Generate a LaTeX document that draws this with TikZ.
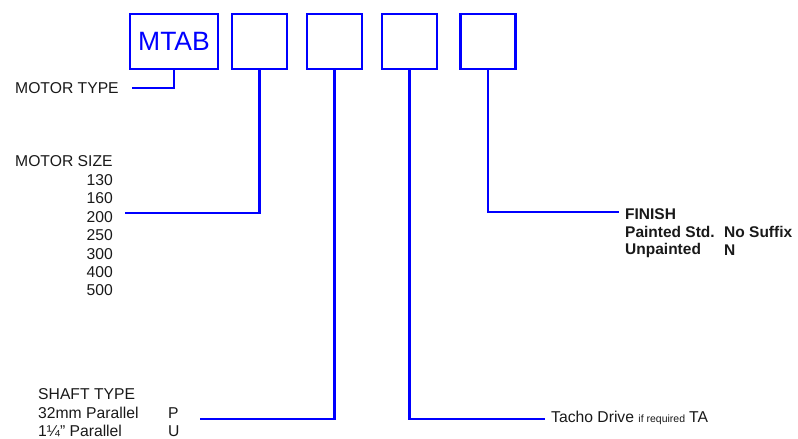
\documentclass[tikz,border=0pt]{standalone}
\usepackage{fontspec}
\setmainfont{Liberation Sans}
\definecolor{lineblue}{RGB}{0,0,255}
\definecolor{txt}{RGB}{25,25,25}
\begin{document}
\begin{tikzpicture}[x=1pt,y=-1pt,
  codebox/.style={draw=lineblue,line width=2.6pt,minimum width=55pt,minimum height=55pt,inner sep=0pt},
  lead/.style={draw=lineblue,line width=2.8pt},
  lbl/.style={inner sep=0pt,text=txt,font=\fontsize{15.7}{18}\selectfont},
  blbl/.style={inner sep=0pt,text=txt,font=\fontsize{15.5}{18}\selectfont\bfseries}]
\useasboundingbox (0,0) rectangle (798,439);
% code boxes
\node[codebox,minimum width=88pt,text=lineblue,font=\fontsize{26.5}{30}\selectfont] (b1) at (174,41.5) {MTAB};
\node[codebox] (b2) at (259.5,41.5) {};
\node[codebox] (b3) at (334.5,41.5) {};
\node[codebox] (b4) at (409.5,41.5) {};
\node[codebox] (b5) at (488,41.5) {};
% labels
\node[lbl,anchor=west] (mt) at (15,88) {MOTOR TYPE};
\node[lbl,anchor=west] (ms) at (15,161) {MOTOR SIZE};
\node[lbl,anchor=east] (s130) at (113,180) {130};
\node[lbl,anchor=east] (s160) at (113,198) {160};
\node[lbl,anchor=east] (s200) at (113,217) {200};
\node[lbl,anchor=east] (s250) at (113,235) {250};
\node[lbl,anchor=east] (s300) at (113,254) {300};
\node[lbl,anchor=east] (s400) at (113,272) {400};
\node[lbl,anchor=east] (s500) at (113,290) {500};
\node[lbl,anchor=west] (st) at (38,394) {SHAFT TYPE};
\node[lbl,anchor=west] (st1) at (38,413) {32mm Parallel};
\node[lbl,anchor=west] (stp) at (168,413) {P};
\node[lbl,anchor=west] (st2) at (38,431) {1¼” Parallel};
\node[lbl,anchor=west] (stu) at (168,431) {U};
\node[lbl,anchor=west] (td) at (551,418) {Tacho Drive {\fontsize{10.5}{12}\selectfont if required}\hspace{4pt}TA};
\node[blbl,anchor=west] (fin) at (625,214) {FINISH};
\node[blbl,anchor=west] (fp) at (625,232) {Painted Std.};
\node[blbl,anchor=west] (fpn) at (724,232) {No Suffix};
\node[blbl,anchor=west] (fu) at (625,250) {Unpainted};
\node[blbl,anchor=west] (fun) at (724,250) {N};
% leader ends
\coordinate (e1) at (132,88);
\coordinate (e2) at (125,213);
\coordinate (e3) at (200,419);
\coordinate (e4) at (545,419);
\coordinate (e5) at (619,212);
\draw[lead] (b1.south) |- (e1);
\draw[lead] (b2.south) |- (e2);
\draw[lead] (b3.south) |- (e3);
\draw[lead] (b4.south) |- (e4);
\draw[lead] (b5.south) |- (e5);
\end{tikzpicture}
\end{document}
